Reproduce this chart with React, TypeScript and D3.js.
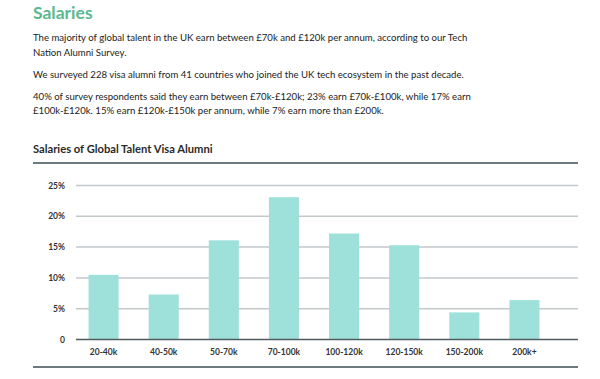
import React from "react";
import * as d3 from "d3";

const categories = ["20-40k", "40-50k", "50-70k", "70-100k", "100-120k", "120-150k", "150-200k", "200k+"];
const values = [10.5, 7.3, 16.1, 23.1, 17.2, 15.3, 4.4, 6.4];
const yTicks = [0, 5, 10, 15, 20, 25];
const yTickLabels = ["0", "5%", "10%", "15%", "20%", "25%"];

const heading = "Salaries";
const paragraphLines = [
  "The majority of global talent in the UK earn between £70k and £120k per annum, according to our Tech",
  "Nation Alumni Survey.",
  "We surveyed 228 visa alumni from 41 countries who joined the UK tech ecosystem in the past decade.",
  "40% of survey respondents said they earn between £70k-£120k; 23% earn £70k-£100k, while 17% earn",
  "£100k-£120k. 15% earn £120k-£150k per annum, while 7% earn more than £200k.",
];
const lineBaselines = [41, 56, 78, 100, 114];
const chartTitle = "Salaries of Global Talent Visa Alumni";

export default function App() {
  const W = 600, H = 379;
  const x = d3.scaleBand<string>().domain(categories).range([73.5, 554.5]).paddingInner(0.5).paddingOuter(0.25);
  const y = d3.scaleLinear().domain([0, 25]).range([339.5, 185.5]);
  const font = "Lato, 'Open Sans', sans-serif";
  return (
    <svg width={W} height={H} style={{ position: "absolute", left: 0, top: 0, background: "#fff" }} fontFamily={font}>
      <text x={33} y={18.5} fontSize={17.5} fontWeight={700} fill="#5cb88e">{heading}</text>
      {paragraphLines.map((l, i) => (
        <text key={i} x={33} y={lineBaselines[i]} fontSize={9.6} fill="#222">{l}</text>
      ))}
      <text x={33} y={152.5} fontSize={11.2} fontWeight={700} fill="#2a2a2a">{chartTitle}</text>
      <line x1={33} x2={578} y1={163} y2={163} stroke="#6c7a80" strokeWidth={2} />
      {yTicks.filter(t => t > 0).map(t => (
        <line key={t} x1={76} x2={578} y1={y(t)} y2={y(t)} stroke="#c3c8cb" strokeWidth={1.5} />
      ))}
      {categories.map((c, i) => (
        <rect key={c} x={x(c)} y={y(values[i])} width={x.bandwidth()} height={y(0) - y(values[i])} fill="#9ee1da" />
      ))}
      <line x1={76} x2={578} y1={y(0)} y2={y(0)} stroke="#4f5c62" strokeWidth={1.5} />
      {yTicks.map((t, i) => (
        <text key={t} x={65} y={y(t) + 3} fontSize={8.5} fontWeight={700} textAnchor="end" fill="#333">{yTickLabels[i]}</text>
      ))}
      {categories.map(c => (
        <text key={c} x={(x(c) as number) + x.bandwidth() / 2} y={355} fontSize={8.5} fontWeight={700} textAnchor="middle" fill="#333">{c}</text>
      ))}
      <line x1={33} x2={578} y1={367} y2={367} stroke="#6c7a80" strokeWidth={2} />
    </svg>
  );
}
